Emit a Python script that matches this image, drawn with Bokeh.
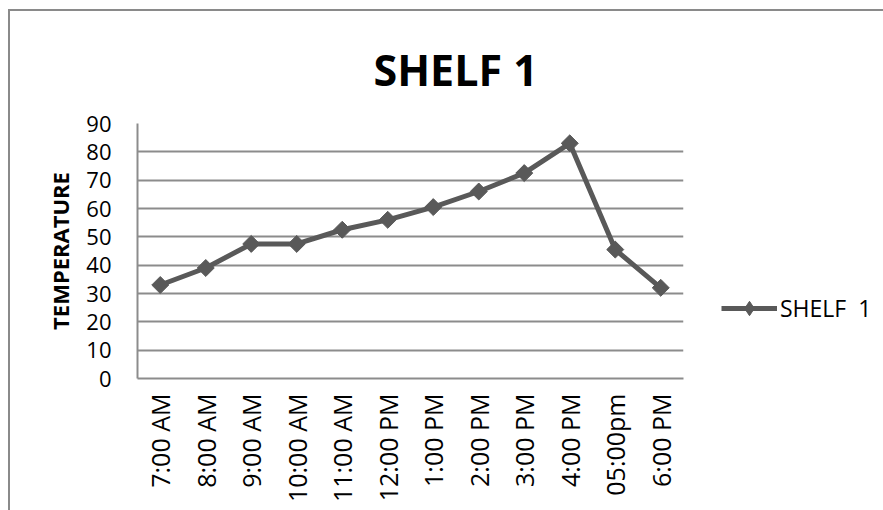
import math
from bokeh.plotting import figure
from bokeh.models import Legend, LegendItem, Title
from bokeh.embed import file_html
from bokeh.resources import INLINE

times = ["7:00 AM", "8:00 AM", "9:00 AM", "10:00 AM", "11:00 AM", "12:00 PM",
         "1:00 PM", "2:00 PM", "3:00 PM", "4:00 PM", "05:00pm", "6:00 PM"]
shelf1 = [33, 39, 47.5, 47.5, 52.5, 56, 60.5, 66, 72.5, 83, 45.5, 32]
y_ticks = [0, 10, 20, 30, 40, 50, 60, 70, 80, 90]

W, H = 873, 499
L, T, FW, FH = 127, 112, 546, 255

p = figure(x_range=times, y_range=(0, 90),
           frame_width=FW, frame_height=FH,
           output_backend="svg", toolbar_location=None,
           min_border_left=L, min_border_top=T,
           min_border_right=W - L - FW, min_border_bottom=H - T - FH,
           styles={"margin-left": "8px", "margin-top": "9px",
                   "border-left": "2px solid #8a8a8a", "border-top": "2px solid #8a8a8a"})
p.outline_line_color = None
p.background_fill_color = "white"
p.border_fill_color = "white"

p.title = Title(text="SHELF  1", align="left", text_font="Open Sans",
                text_font_style="bold", text_font_size="43px", text_color="black",
                text_line_height=0.8, standoff=50, offset=236)

# grid
p.xgrid.grid_line_color = None
p.ygrid.ticker = y_ticks
p.ygrid.grid_line_color = "#8c8c8c"
p.ygrid.grid_line_width = 2

# axes
for ax in (p.xaxis[0], p.yaxis[0]):
    ax.axis_line_color = "#8c8c8c"
    ax.axis_line_width = 2
    ax.major_tick_line_color = None
    ax.minor_tick_line_color = None
    ax.major_label_text_font = "Open Sans"
    ax.major_label_text_color = "black"

p.yaxis.ticker = y_ticks
p.yaxis.major_label_text_font_size = "22px"
p.yaxis.major_label_standoff = 20
p.yaxis.axis_label = "TEMPERATURE"
p.yaxis.axis_label_text_font = "Open Sans"
p.yaxis.axis_label_text_font_style = "bold"
p.yaxis.axis_label_text_font_size = "22px"
p.yaxis.axis_label_text_color = "black"
p.yaxis.axis_label_standoff = 8

p.xaxis.major_label_orientation = math.pi / 2
p.xaxis.major_label_text_font_size = "25px"
p.xaxis.major_label_standoff = 9

color = "#595959"
# legend-only diamond glyph, hidden underneath the plotted markers
sc_leg = p.scatter(times, shelf1, marker="diamond", size=13,
                   fill_color=color, line_color=color)
ln = p.line(times, shelf1, line_color=color, line_width=5)
sc = p.scatter(times, shelf1, marker="square", angle=math.pi / 4, size=12,
               fill_color=color, line_color=color)

legend = Legend(items=[LegendItem(label="SHELF  1", renderers=[ln, sc_leg])],
                location=(38, 52), padding=0, margin=0,
                border_line_color=None, background_fill_alpha=0,
                glyph_width=56, glyph_height=36, label_standoff=3,
                label_text_font="Open Sans", label_text_font_size="23px",
                label_text_color="black")
p.add_layout(legend, "right")

open("out.html", "w").write(file_html(p, INLINE))
